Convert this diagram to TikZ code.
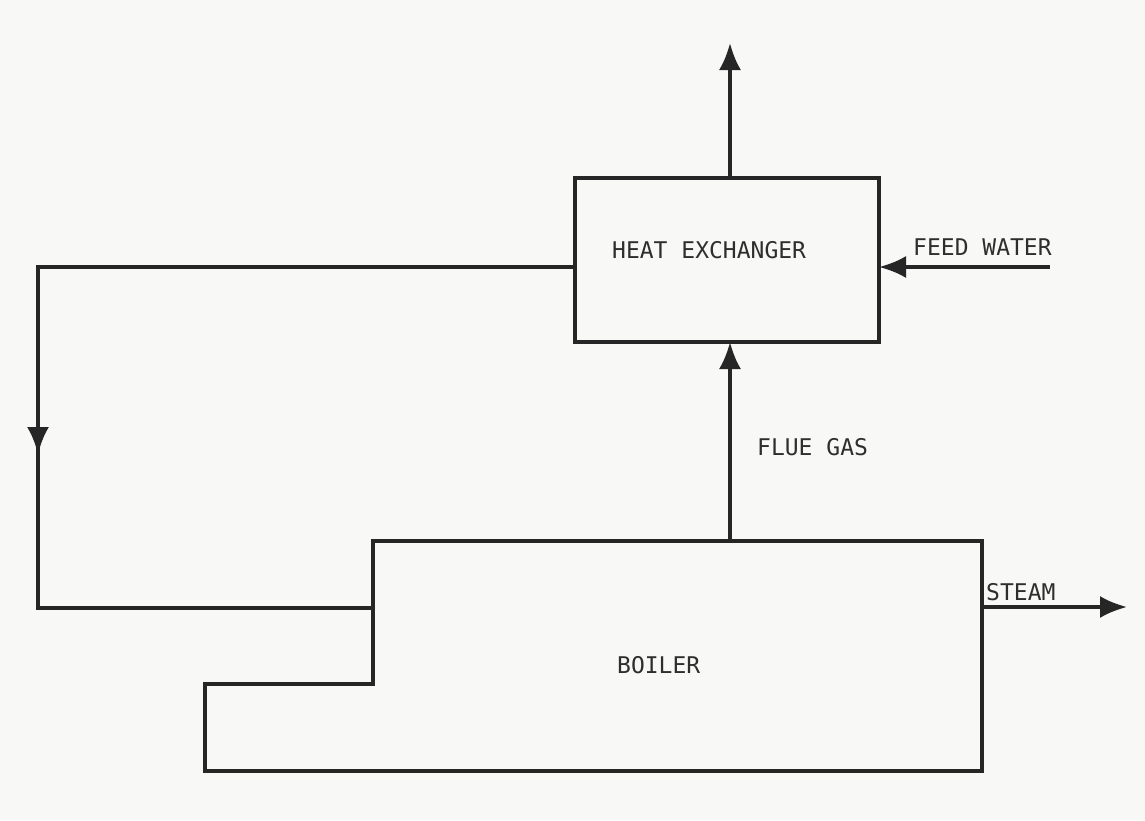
\documentclass[tikz,border=0pt]{standalone}
\usepackage{fontspec}
\setmonofont{DejaVu Sans Mono}
\usetikzlibrary{arrows.meta}
\definecolor{paper}{HTML}{F8F8F7}
\definecolor{ink}{HTML}{262626}
\definecolor{txt}{HTML}{2E2E2E}
\tikzset{
  line/.style={draw=ink, line width=3.4pt, line cap=rect},
  flow/.style={line, -{Latex[length=27pt,width=22pt]}},
  lbl/.style={font=\ttfamily\fontsize{23}{23}\selectfont, text=txt, inner sep=0pt, anchor=base west},
  box/.style={draw=ink, line width=3.4pt, inner sep=0pt}
}
\begin{document}
\begin{tikzpicture}[x=1pt,y=-1pt]
\fill[paper] (0,0) rectangle (1145,820);
\useasboundingbox (0,0) rectangle (1145,820);
% heat exchanger
\node[box, minimum width=304pt, minimum height=164pt] (hx) at (727,260) {};
\node[lbl] (hxl) at (612,258) {HEAT EXCHANGER};
% coordinates
\coordinate (hxtop) at (730,178);
\coordinate (exhaust) at (730,43);
\coordinate (hxbot) at (730,342);
\coordinate (hxleft) at (575,267);
\coordinate (hxright) at (879,267);
\coordinate (fwin) at (1048,267);
\coordinate (c1) at (38,267);
\coordinate (c2) at (38,454);
\coordinate (c2b) at (38,440);
\coordinate (c3) at (38,608);
\coordinate (bin) at (373,608);
\coordinate (bsteam) at (982,607);
\coordinate (steamout) at (1127,607);
\coordinate (btop) at (730,541);
% boiler outline
\draw[line, line cap=butt, line join=miter] (373,541) -- (982,541) -- (982,771) -- (205,771) -- (205,684) -- (373,684) -- cycle;
\node[lbl] (boilerl) at (617,673) {BOILER};
% connectors
\draw[flow] (hxtop) -- (exhaust);
\draw[flow] (btop) -- (hxbot);
\draw[flow] (fwin) -- (hxright);
\draw[line, line join=miter] (hxleft) -- (c1) -- (c2b);
\draw[flow] (c1) -- (c2);
\draw[line, line join=miter] (c2b) -- (c3) -- (bin);
\draw[flow] (bsteam) -- (steamout);
% labels
\node[lbl] (fwl) at (913,255) {FEED WATER};
\node[lbl] (fgl) at (757,455) {FLUE GAS};
\node[lbl] (stl) at (986,600) {STEAM};
\end{tikzpicture}
\end{document}
